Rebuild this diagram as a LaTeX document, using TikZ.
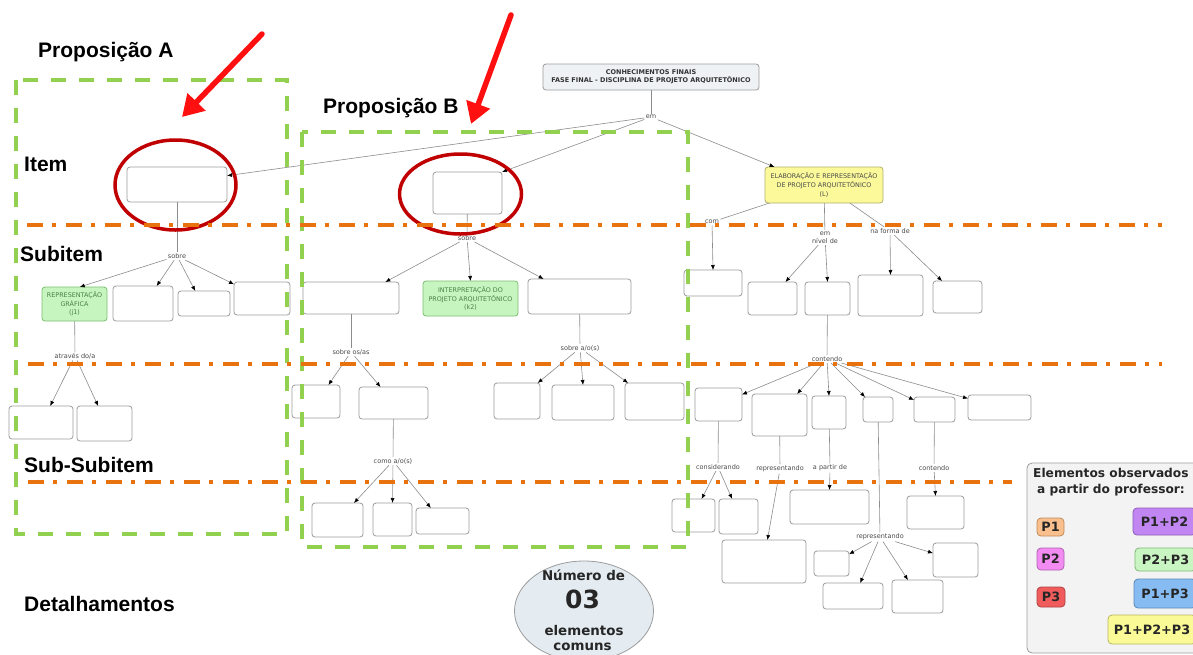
\documentclass[tikz,border=0pt]{standalone}
\usepackage{fontspec}
\setmainfont{Liberation Sans}
\newfontfamily\mapfont{DejaVu Sans}
\usetikzlibrary{arrows.meta,shapes.geometric}

\definecolor{boxline}{HTML}{9C9C9C}
\definecolor{linkgray}{HTML}{8C8C8C}
\definecolor{labtext}{HTML}{4A4A4A}
\definecolor{rootfill}{HTML}{EEF2F5}
\definecolor{greenfill}{HTML}{C6F5C0}
\definecolor{greenline}{HTML}{7DBF70}
\definecolor{greentext}{HTML}{4A7F48}
\definecolor{yellowfill}{HTML}{FBF99A}
\definecolor{yellowline}{HTML}{B4B070}
\definecolor{propgreen}{HTML}{92D050}
\definecolor{levelorange}{HTML}{E8730E}
\definecolor{ringred}{HTML}{C00000}
\definecolor{pointred}{HTML}{FF1010}
\definecolor{legfill}{HTML}{F3F3F3}
\definecolor{circfill}{HTML}{E4ECF1}
\definecolor{cP1}{HTML}{F9C08E}\definecolor{cP1l}{HTML}{C08A5A}
\definecolor{cP2}{HTML}{F28CF2}\definecolor{cP2l}{HTML}{B060B0}
\definecolor{cP3}{HTML}{F05C5C}\definecolor{cP3l}{HTML}{B04040}
\definecolor{cP12}{HTML}{C186F2}\definecolor{cP12l}{HTML}{8C5CB8}
\definecolor{cP23}{HTML}{C8F5C2}\definecolor{cP23l}{HTML}{80B878}
\definecolor{cP13}{HTML}{86BCF2}\definecolor{cP13l}{HTML}{5A88B8}
\definecolor{cP123}{HTML}{FAFA96}\definecolor{cP123l}{HTML}{B8B860}

\newcommand{\boxfont}{\mapfont\fontsize{6.4}{8.6}\selectfont}
\newcommand{\labfont}{\mapfont\fontsize{6.5}{8.4}\selectfont}
\newcommand{\rootfont}{\mapfont\bfseries\fontsize{6.5}{8.4}\selectfont}
\newcommand{\headfont}{\bfseries\fontsize{21}{24}\selectfont}
\newcommand{\legfont}{\mapfont\bfseries\fontsize{12.8}{15}\selectfont}

% empty concept box from its corners: [style]{x1}{y1}{x2}{y2}{name}
\newcommand{\bx}[6][]{\node[mapbox,#1,minimum width=(#4-#2)*1pt,minimum height=(#5-#3)*1pt] (#6) at ({(#2+#4)/2},{(#3+#5)/2}) {};}
% concept box with text
\newcommand{\tbx}[7][]{\node[mapbox,#1,minimum width=(#4-#2)*1pt,minimum height=(#5-#3)*1pt] (#6) at ({(#2+#4)/2},{(#3+#5)/2}) {#7};}

\begin{document}
\begin{tikzpicture}[x=1pt,y=-1pt,
  mapbox/.style={draw=boxline,fill=white,rounded corners=3pt,line width=0.8pt,inner sep=0pt,outer sep=0pt},
  greenbox/.style={fill=greenfill,draw=greenline,text=greentext,font=\boxfont,align=center},
  yellowbox/.style={fill=yellowfill,draw=yellowline,text=labtext,font=\boxfont,align=center},
  rootbox/.style={fill=rootfill,draw=boxline,text=labtext!70!black,font=\rootfont,align=center},
  lab/.style={font=\labfont,text=labtext,inner sep=1.3pt,align=center},
  link/.style={draw=linkgray,line width=0.6pt},
  arr/.style={link,-{Latex[length=5pt,width=4pt,color=black]}},
  head/.style={font=\headfont,inner sep=0pt,anchor=base west},
  ring/.style={ellipse,draw=ringred,line width=3.5pt,inner sep=0pt},
  pointer/.style={draw=pointred,line width=5.5pt,line cap=round,-{Triangle[length=21pt,width=24pt]}},
  propbox/.style={draw=propgreen,line width=4pt,dash pattern=on 15pt off 13pt},
  level/.style={draw=levelorange,line width=4pt,dash pattern=on 16pt off 9pt on 4pt off 10pt},
  legitem/.style={rounded corners=4pt,line width=0.8pt,font=\legfont,text=black!85},
  legtitle/.style={font=\mapfont\bfseries\fontsize{12.2}{14}\selectfont,inner sep=0pt,anchor=base west,text=black!85},
  circtext/.style={font=\mapfont\bfseries\fontsize{13.4}{15}\selectfont,inner sep=0pt,anchor=base,text=black!85}
]
\useasboundingbox (0,0) rectangle (1193,654);
\clip (0,0) rectangle (1193,654);
\fill[white] (0,0) rectangle (1193,654);

% ---------- root and first level ----------
\tbx[rootbox]{543}{64}{759}{90}{root}{CONHECIMENTOS FINAIS\\FASE FINAL - DISCIPLINA DE PROJETO ARQUITETÔNICO}
\node[lab] (em) at (651,117) {em};
\bx{127}{167}{227}{202}{A}
\bx{433}{172}{502}{214}{B}
\tbx[yellowbox]{765}{167}{883}{203}{L}{ELABORAÇÃO E REPRESENTAÇÃO\\DE PROJETO ARQUITETÔNICO\\(L)}
\draw[link] (root) -- (em);
\draw[arr] (em) -- (A.10);
\draw[arr] (em) -- (B.north east);
\draw[arr] (em) -- (L.160);

% ---------- branch A ----------
\node[lab] (sA) at (177,256) {sobre};
\tbx[greenbox]{42}{287}{107}{321}{j1}{REPRESENTAÇÃO\\GRÁFICA\\(j1)}
\bx{113}{286}{173}{321}{a2}
\bx{178}{291}{230}{316}{a3}
\bx{234}{282}{290}{315}{a4}
\draw[link] (A) -- (sA);
\draw[arr] (sA) -- (j1.73);
\draw[arr] (sA) -- (a2.52);
\draw[arr] (sA) -- (a3.125);
\draw[arr] (sA) -- (a4.153);

\node[lab] (tA) at (75,356) {através do/a};
\bx{9}{406}{73}{439}{s1}
\bx{77}{406}{132}{441}{s2}
\draw[link] (j1) -- (tA);
\draw[arr] (tA) -- (s1.61);
\draw[arr] (tA) -- (s2.110);

% ---------- branch B ----------
\node[lab] (sB) at (467,238) {sobre};
\bx{303}{282}{399}{314}{b1}
\tbx[greenbox]{423}{281}{518}{316}{k2}{INTERPRETAÇÃO DO\\PROJETO ARQUITETÔNICO\\(k2)}
\bx{528}{279}{631}{314}{b3}
\draw[link] (B) -- (sB);
\draw[arr] (sB) -- (b1.25);
\draw[arr] (sB) -- (k2.north);
\draw[arr] (sB) -- (b3.154);

\node[lab] (soa) at (351,352) {sobre os/as};
\bx{292}{385}{340}{418}{c1}
\bx{359}{387}{428}{419}{c2}
\draw[link] (b1) -- (soa);
\draw[arr] (soa) -- (c1.53);
\draw[arr] (soa) -- (c2.129);

\node[lab] (como) at (393,461) {como a/o(s)};
\bx{312}{503}{363}{537}{e1}
\bx{373}{503}{412}{536}{e2}
\bx{416}{508}{469}{534}{e3}
\draw[link] (c2) -- (como);
\draw[arr] (como) -- (e1.46);
\draw[arr] (como) -- (e2.north);
\draw[arr] (como) -- (e3.132);

\node[lab] (sao) at (580,348) {sobre a/o(s)};
\bx{494}{383}{540}{419}{d1}
\bx{552}{385}{614}{420}{d2}
\bx{625}{383}{684}{420}{d3}
\draw[link] (b3) -- (sao);
\draw[arr] (sao) -- (d1.41);
\draw[arr] (sao) -- (d2.north);
\draw[arr] (sao) -- (d3.145);

% ---------- branch L ----------
\node[lab] (com) at (712,222) {com};
\node[lab] (niv) at (825,237.5) {em\\nível de};
\node[lab] (forma) at (890,231) {na forma de};
\draw[link] (L) -- (com);
\draw[link] (L) -- (niv);
\draw[link] (L) -- (forma);
\bx{684}{270}{742}{296}{m1}
\bx{748}{282}{797}{315}{n1}
\bx{805}{282}{850}{315}{n2}
\bx{858}{275}{923}{316}{f1}
\bx{933}{281}{982}{313}{f2}
\draw[arr] (com) -- (m1.north);
\draw[arr] (niv) -- (n1.52);
\draw[arr] (niv) -- (n2.north);
\draw[arr] (forma) -- (f1.north);
\draw[arr] (forma) -- (f2.134);

\node[lab] (cont) at (827,359) {contendo};
\draw[link] (n2) -- (cont);
\bx{695}{388}{742}{421}{r1}
\bx{752}{394}{807}{436}{r2}
\bx{812}{396}{846}{429}{r3}
\bx{863}{397}{893}{422}{r4}
\bx{914}{397}{955}{422}{r5}
\bx{968}{395}{1031}{420}{r6}
\draw[arr] (cont) -- (r1.23);
\draw[arr] (cont) -- (r2.50);
\draw[arr] (cont) -- (r3.north);
\draw[arr] (cont) -- (r4.136);
\draw[arr] (cont) -- (r5.155);
\draw[arr] (cont) -- (r6.164);

\node[lab] (cons) at (718,467) {considerando};
\node[lab] (rep1) at (780,469) {representando};
\node[lab] (apd) at (830,468) {a partir de};
\node[lab] (rep2) at (880,537) {representando};
\node[lab] (cont2) at (934,468) {contendo};
\draw[link] (r1) -- (cons);
\draw[link] (r2) -- (rep1);
\draw[link] (r3) -- (apd);
\draw[link] (r4) -- (rep2);
\draw[link] (r5) -- (cont2);

\bx{672}{499}{715}{532}{t1}
\bx{719}{499}{758}{534}{t2}
\bx{722}{540}{806}{583}{u1}
\bx{790}{490}{869}{524}{v1}
\bx{814}{551}{849}{576}{w1}
\bx{823}{583}{883}{609}{w2}
\bx{892}{580}{943}{613}{w3}
\bx{933}{543}{978}{577}{w4}
\bx{907}{496}{964}{529}{g1}
\draw[arr] (cons) -- (t1.64);
\draw[arr] (cons) -- (t2.110);
\draw[arr] (rep1) -- (u1.81);
\draw[arr] (apd) -- (v1.north);
\draw[arr] (rep2) -- (w1.28);
\draw[arr] (rep2) -- (w2.61);
\draw[arr] (rep2) -- (w3.120);
\draw[arr] (rep2) -- (w4.163);
\draw[arr] (cont2) -- (g1.north);

% ---------- legend ----------
\bx[fill=legfill,draw=boxline,rounded corners=5pt]{1027}{463}{1215}{653}{legend}
\node[legtitle] (lt1) at (1033,477) {Elementos observados};
\node[legtitle] (lt2) at (1037,493) {a partir do professor:};
\tbx[legitem,fill=cP1,draw=cP1l]{1037}{518}{1064}{536}{lp1}{P1}
\tbx[legitem,fill=cP2,draw=cP2l]{1037}{548}{1064}{570}{lp2}{P2}
\tbx[legitem,fill=cP3,draw=cP3l]{1037}{587}{1065}{607}{lp3}{P3}
\tbx[legitem,fill=cP12,draw=cP12l]{1133}{508}{1196}{535}{lp12}{P1+P2}
\tbx[legitem,fill=cP23,draw=cP23l]{1135}{548}{1196}{571}{lp23}{P2+P3}
\tbx[legitem,fill=cP13,draw=cP13l]{1134}{579}{1196}{608}{lp13}{P1+P3}
\tbx[legitem,fill=cP123,draw=cP123l]{1108}{615}{1196}{644}{lp123}{P1+P2+P3}

% ---------- count of common elements ----------
\node[ellipse,draw=boxline,fill=circfill,line width=0.8pt,minimum width=139pt,minimum height=100pt,inner sep=0pt] (count) at (584,611) {};
\node[circtext] (ct1) at (583.5,580) {Número de};
\node[circtext,font=\mapfont\bfseries\fontsize{25}{27}\selectfont] (ct2) at (582.5,608) {03};
\node[circtext] (ct3) at (584,635) {elementos};
\node[circtext] (ct4) at (582.5,650) {comuns};

% ---------- highlighted items ----------
\node[ring,minimum width=121pt,minimum height=90pt] (ringA) at (175.5,185) {};
\node[ring,minimum width=122pt,minimum height=80pt] (ringB) at (460.5,194) {};

% ---------- propositions and levels ----------
\draw[propbox] (16,80) rectangle (287,534);
\draw[propbox] (302,132) rectangle (688,547);
\draw[level] (27,225) -- (1162,225);
\draw[level] (28,364) -- (1162,364);
\draw[level] (28,482) -- (1012,482);

\node[head] (hA) at (38,57) {Proposição A};
\node[head] (hB) at (323,113) {Proposição B};
\node[head] (hItem) at (24,171) {Item};
\node[head] (hSub) at (20,261) {Subitem};
\node[head] (hSubSub) at (24,472) {Sub-Subitem};
\node[head] (hDet) at (24,611) {Detalhamentos};

\coordinate (pA1) at (262,34);
\coordinate (pA2) at (182,117);
\coordinate (pB1) at (511,15);
\coordinate (pB2) at (471,124);
\draw[pointer] (pA1) -- (pA2);
\draw[pointer] (pB1) -- (pB2);
\end{tikzpicture}
\end{document}
